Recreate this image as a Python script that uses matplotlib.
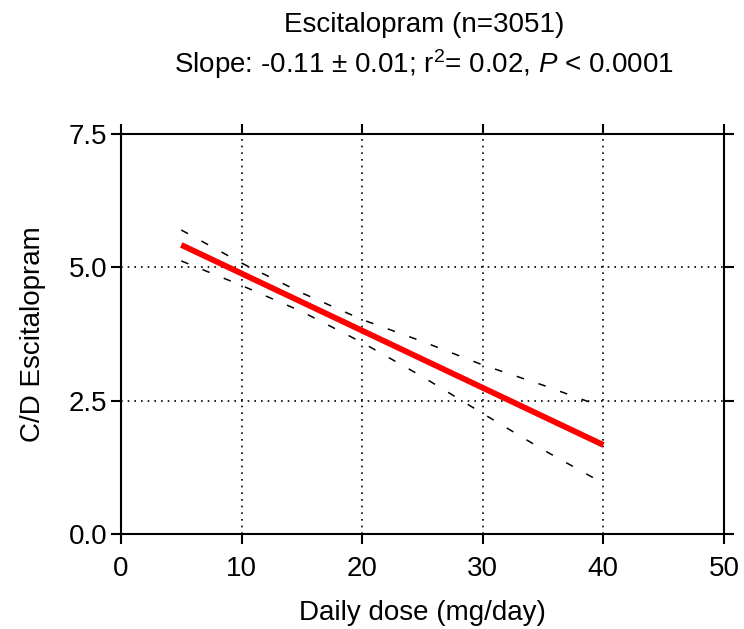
import matplotlib
matplotlib.use("Agg")
import matplotlib.pyplot as plt

plt.rcParams['font.family'] = ['Liberation Sans', 'DejaVu Sans']
plt.rcParams['mathtext.fontset'] = 'custom'
plt.rcParams['mathtext.rm'] = 'Liberation Sans'
plt.rcParams['mathtext.it'] = 'Liberation Sans:italic'

# Regression line
line_x = [5, 40]
line_y = [5.42, 1.67]

# 95% confidence band, read at several doses
band_x = [5, 10, 15, 20, 25, 30, 35, 40]
band_upper = [5.70, 5.08, 4.52, 4.02, 3.61, 3.17, 2.79, 2.38]
band_lower = [5.12, 4.66, 4.17, 3.59, 2.95, 2.26, 1.58, 0.95]

x_ticks = [0, 10, 20, 30, 40, 50]
y_ticks = [0.0, 2.5, 5.0, 7.5]

fig = plt.figure(figsize=(7.44, 6.29), dpi=100)
ax = fig.add_axes([0.1626, 0.151, 0.8104, 0.636])

ax.plot(band_x, band_upper, color='black', lw=1.1, dashes=(5, 10))
ax.plot(band_x, band_lower, color='black', lw=1.1, dashes=(5, 10))
ax.plot(line_x, line_y, color='#ff0000', lw=4.2, solid_capstyle='butt')

ax.set_xlim(0, 50)
ax.set_ylim(0, 7.5)
ax.set_xticks(x_ticks)
ax.set_yticks(y_ticks)
ax.set_yticklabels([f"{v:.1f}" for v in y_ticks])
ax.grid(True, color='black', linestyle=(0, (1, 3)), linewidth=1.2)
ax.set_axisbelow(True)

for s in ax.spines.values():
    s.set_linewidth(1.5)
ax.tick_params(direction='out', length=7, width=1.5, labelsize=20,
               top=True, right=True, labeltop=False, labelright=False)
ax.tick_params(axis='x', pad=9)
ax.tick_params(axis='y', pad=3)

ax.set_xlabel("Daily dose (mg/day)", fontsize=20, labelpad=13)
ax.set_ylabel("C/D Escitalopram", fontsize=20, labelpad=16)

fig.text(0.57, 0.960, "Escitalopram (n=3051)", ha='center', va='center', fontsize=20)
fig.text(0.57, 0.898, r"Slope: -0.11 ± 0.01; r$^{2}$= 0.02, $\mathit{P}$ < 0.0001",
         ha='center', va='center', fontsize=20)

fig.savefig("out.png", dpi=100)
